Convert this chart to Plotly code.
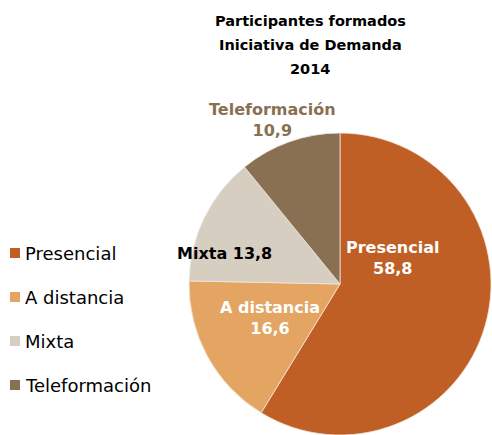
import plotly.graph_objects as go

categories = ["Presencial", "A distancia", "Mixta", "Teleformación"]
values = [58.8, 16.6, 13.8, 10.9]
colors = ["#BF5F26", "#E4A562", "#D6CEC1", "#8A7052"]
title_lines = ["Participantes formados", "Iniciativa de Demanda", "2014"]

W, H = 492, 435

def px(x, y):
    return x / W, 1 - y / H

fmt = lambda v: f"{v:.1f}".replace(".", ",")
font = "DejaVu Sans, Verdana, sans-serif"

fig = go.Figure()
cx, cy, r = 340, 284, 151
x0, y0 = px(cx - r, cy + r)
x1, y1 = px(cx + r, cy - r)
fig.add_trace(go.Pie(
    labels=categories, values=values, sort=False, direction="clockwise",
    marker=dict(colors=colors, line=dict(color="#F2E6DC", width=0.8)),
    textinfo="none", hoverinfo="label+value", showlegend=False,
    domain=dict(x=[x0, x1], y=[y0, y1]),
))

annotations = []
shapes = []

# slice labels
label_specs = [
    (f"{categories[0]}<br>{fmt(values[0])}", 392, 258, "white"),
    (f"{categories[1]}<br>{fmt(values[1])}", 270, 318, "white"),
    (f"{categories[2]} {fmt(values[2])}", 224, 253, "black"),
    (f"{categories[3]}<br>{fmt(values[3])}", 272, 120, colors[3]),
]
for text, lx, ly, col in label_specs:
    ax, ay = px(lx, ly)
    annotations.append(dict(text=f"<b>{text}</b>", x=ax, y=ay, xref="paper", yref="paper",
                            showarrow=False, xanchor="center", yanchor="middle",
                            font=dict(family=font, size=16, color=col)))

# title, one line per annotation
for i, line in enumerate(title_lines):
    tx, ty = px(310, 21 + 24 * i)
    annotations.append(dict(text=f"<b>{line}</b>", x=tx, y=ty, xref="paper", yref="paper",
                            showarrow=False, xanchor="center", yanchor="middle",
                            font=dict(family=font, size=14.5, color="black")))

# legend (square swatch + label)
leg_y0, leg_dy = 253, 44
for i, (c, col) in enumerate(zip(categories, colors)):
    yc = leg_y0 + leg_dy * i
    sx0, sy0 = px(10, yc + 5)
    sx1, sy1 = px(20, yc - 5)
    shapes.append(dict(type="rect", xref="paper", yref="paper", x0=sx0, x1=sx1, y0=sy0, y1=sy1,
                       fillcolor=col, line=dict(width=0)))
    ax, ay = px(23, yc)
    annotations.append(dict(text=c, x=ax, y=ay, xref="paper", yref="paper", showarrow=False,
                            xanchor="left", yanchor="middle",
                            font=dict(family=font, size=18, color="black")))

fig.update_layout(
    width=W, height=H, margin=dict(l=0, r=0, t=0, b=0),
    paper_bgcolor="white", plot_bgcolor="white",
    showlegend=False,
    annotations=annotations, shapes=shapes,
)
fig.write_html("out.html", config={"displayModeBar": False},
               post_script="document.body.style.margin='0';")
